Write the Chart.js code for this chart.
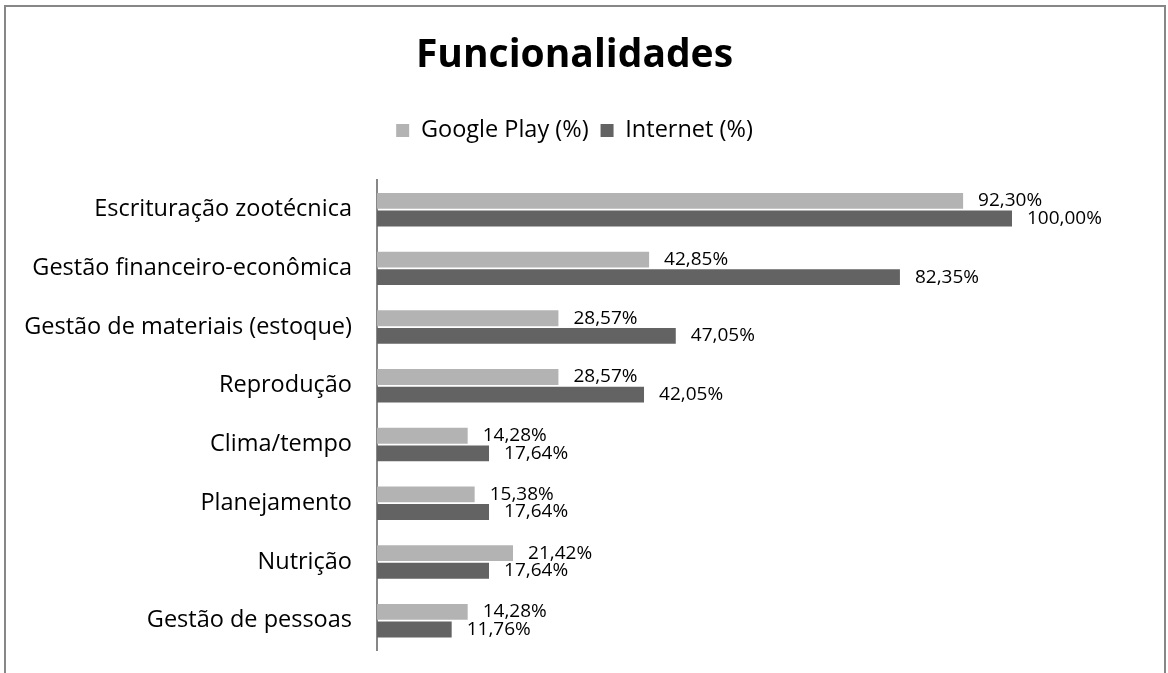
<!DOCTYPE html>
<html>
<head>
<meta charset="utf-8">
<script src="https://cdn.jsdelivr.net/npm/chart.js@4/dist/chart.umd.min.js"></script>
<style>
  body { margin: 0; background: #fff; }
  #moldura { position: absolute; left: 4px; top: 5px; width: 1158px; height: 700px; border: 2px solid #878787; }
  #grafico { position: absolute; left: 0; top: 0; }
</style>
</head>
<body>
<div id="moldura"></div>
<canvas id="grafico" width="1168" height="673"></canvas>
<script>
const categorias = [
    'Escrituração zootécnica',
    'Gestão financeiro-econômica',
    'Gestão de materiais (estoque)',
    'Reprodução',
    'Clima/tempo',
    'Planejamento',
    'Nutrição',
    'Gestão de pessoas'
];
const googlePlay = [92.30, 42.85, 28.57, 28.57, 14.28, 15.38, 21.42, 14.28];
const internet = [100.00, 82.35, 47.05, 42.05, 17.64, 17.64, 17.64, 11.76];

function formataPerc(v) {
    return v.toFixed(2).replace('.', ',') + '%';
}

// rotulos ao lado das barras
const rotulosBarras = {
    id: 'rotulosBarras',
    afterDatasetsDraw(chart) {
        const ctx = chart.ctx;
        ctx.save();
        ctx.font = '19px "Open Sans"';
        ctx.fillStyle = '#000';
        ctx.textBaseline = 'middle';
        ctx.textAlign = 'left';
        chart.data.datasets.forEach((ds, i) => {
            chart.getDatasetMeta(i).data.forEach((bar, j) => {
                ctx.fillText(formataPerc(ds.data[j]), bar.x + 15, bar.y);
            });
        });
        ctx.restore();
    }
};

// espaco extra abaixo da legenda
const margemLegenda = {
    id: 'margemLegenda',
    beforeInit(chart) {
        const fitOrig = chart.legend.fit;
        chart.legend.fit = function () {
            fitOrig.bind(chart.legend)();
            this.height += 28;
        };
    }
};

const ctx = document.getElementById('grafico').getContext('2d');
const grafico = new Chart(ctx, {
    type: 'bar',
    data: {
        labels: categorias,
        datasets: [
            {
                label: 'Google Play (%)',
                data: googlePlay,
                backgroundColor: '#b3b3b3',
                categoryPercentage: 0.6,
                barPercentage: 0.9
            },
            {
                label: 'Internet (%)',
                data: internet,
                backgroundColor: '#636363',
                categoryPercentage: 0.6,
                barPercentage: 0.9
            }
        ]
    },
    options: {
        indexAxis: 'y',
        responsive: false,
        animation: false,
        layout: { padding: { top: 22, right: 29, bottom: 23, left: 10 } },
        scales: {
            x: { display: false, min: 0, max: 120 },
            y: {
                grid: { display: false },
                border: { display: true, color: '#878787', width: 2 },
                ticks: { color: '#000', font: { family: 'Open Sans', size: 23.5 }, padding: 17 },
                afterFit(scale) {
                    scale.width = 367;
                    scale.paddingTop = 0;
                    scale.paddingBottom = 0;
                }
            }
        },
        plugins: {
            title: {
                display: true,
                text: 'Funcionalidades',
                color: '#000',
                font: { family: 'Open Sans', size: 39, weight: 'bold' },
                padding: { top: 10, bottom: 28 }
            },
            legend: {
                position: 'top',
                labels: {
                    color: '#000',
                    font: { family: 'Open Sans', size: 23.5 },
                    boxWidth: 13,
                    boxHeight: 13,
                    padding: 12
                }
            },
            tooltip: { enabled: false }
        }
    },
    plugins: [rotulosBarras, margemLegenda]
});
</script>
</body>
</html>
